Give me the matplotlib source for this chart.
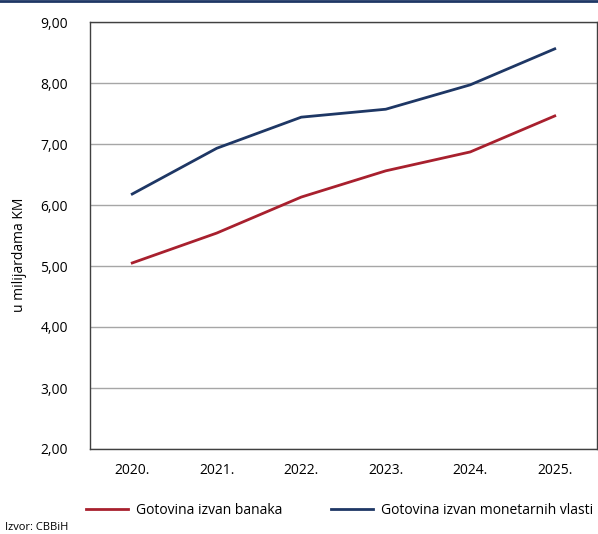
import matplotlib.pyplot as plt
from matplotlib.lines import Line2D

godine = ["2020.", "2021.", "2022.", "2023.", "2024.", "2025."]
izvan_banaka = [5.05, 5.54, 6.13, 6.56, 6.87, 7.46]
izvan_monetarnih = [6.18, 6.93, 7.44, 7.57, 7.97, 8.56]
yticks = [2, 3, 4, 5, 6, 7, 8, 9]

crvena = "#a8202e"
plava = "#1e3765"

plt.rcParams['font.family'] = ['Open Sans', 'DejaVu Sans']

fig = plt.figure(figsize=(5.98, 5.34), dpi=100)
ax = fig.add_axes([90 / 598, 85 / 534, 507 / 598, 427 / 534])

x = range(len(godine))
ax.plot(x, izvan_banaka, color=crvena, lw=2)
ax.plot(x, izvan_monetarnih, color=plava, lw=2)

ax.set_xlim(-0.5, len(godine) - 0.5)
ax.set_ylim(2, 9)
ax.set_yticks(yticks)
ax.set_yticklabels([f"{v:.2f}".replace(".", ",") for v in yticks], fontsize=10)
ax.set_xticks(list(x))
ax.set_xticklabels(godine, fontsize=10)
ax.tick_params(length=0, pad=10)
ax.tick_params(axis="y", pad=16)
ax.yaxis.grid(True, color="#a6a6a6", lw=1)
ax.set_axisbelow(True)
for s in ax.spines.values():
    s.set_color("#404040")
    s.set_linewidth(1)

fig.text(20 / 598, 1 - 255 / 534, "u milijardama KM", fontsize=10,
         rotation=90, ha="center", va="center")

handles = [Line2D([], [], color=crvena, lw=2), Line2D([], [], color=plava, lw=2)]
fig.legend(handles, ["Gotovina izvan banaka", "Gotovina izvan monetarnih vlasti"],
           loc="center", bbox_to_anchor=(340 / 598, 1 - 510 / 534), ncol=2,
           frameon=False, fontsize=10, handlelength=3.0, columnspacing=3.5,
           handletextpad=0.6)

fig.text(5 / 598, 1 - 527 / 534, "Izvor: CBBiH", fontsize=8, va="center")
fig.add_artist(Line2D([0, 1], [1 - 0.5 / 534, 1 - 0.5 / 534], color=plava, lw=2,
                      transform=fig.transFigure))

fig.savefig("out.png", dpi=100)
